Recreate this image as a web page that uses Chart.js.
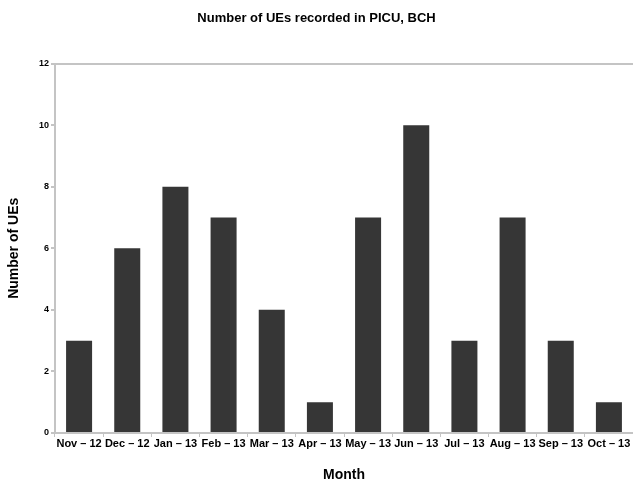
<!DOCTYPE html>
<html>
<head>
<meta charset="utf-8">
<script src="https://cdn.jsdelivr.net/npm/chart.js@4/dist/chart.umd.min.js"></script>
<style>
  html, body { margin: 0; padding: 0; background: #fff; }
  #wrap { width: 633px; height: 479px; }
</style>
</head>
<body>
<div id="wrap"><canvas id="chart"></canvas></div>
<script>
var months = ["Nov \u2013 12", "Dec \u2013 12", "Jan \u2013 13", "Feb \u2013 13", "Mar \u2013 13", "Apr \u2013 13",
              "May \u2013 13", "Jun \u2013 13", "Jul \u2013 13", "Aug \u2013 13", "Sep \u2013 13", "Oct \u2013 13"];
var ueCounts = [3, 6, 8, 7, 4, 1, 7, 10, 3, 7, 3, 1];
var yMax = 12;
var yStep = 2;

document.addEventListener("DOMContentLoaded", function() {
    var ctx = document.getElementById('chart').getContext('2d');
    var axisGray = '#c4c4c4';
    var fam = 'Arial, "Liberation Sans", sans-serif';

    new Chart(ctx, {
        type: 'bar',
        data: {
            labels: months,
            datasets: [{
                label: 'Number of UEs',
                data: ueCounts,
                backgroundColor: '#363636',
                borderWidth: 0,
                barPercentage: 0.54,
                categoryPercentage: 1
            }]
        },
        options: {
            responsive: true,
            maintainAspectRatio: false,
            animation: false,
            layout: { padding: 0 },
            plugins: {
                legend: { display: false },
                tooltip: { enabled: false },
                title: {
                    display: true,
                    text: 'Number of UEs recorded in PICU, BCH',
                    color: '#000',
                    font: { family: fam, size: 13, weight: 'bold' },
                    padding: { top: 11, bottom: 37 }
                }
            },
            scales: {
                x: {
                    offset: true,
                    afterFit: function(scale) { scale.height = 46; },
                    border: { display: true, color: axisGray, width: 2 },
                    grid: {
                        offset: true,
                        drawOnChartArea: false,
                        tickLength: 4,
                        tickColor: axisGray
                    },
                    ticks: {
                        color: '#000',
                        font: { family: fam, size: 11, weight: 'bold' },
                        padding: 0,
                        maxRotation: 0,
                        autoSkip: false
                    },
                    title: {
                        display: true,
                        text: 'Month',
                        color: '#000',
                        font: { family: fam, size: 14, weight: 'bold', lineHeight: 0.6 },
                        padding: { top: 0, bottom: 0 }
                    }
                },
                y: {
                    min: 0,
                    max: yMax,
                    afterFit: function(scale) { scale.width = 55; },
                    border: { display: true, color: axisGray, width: 2 },
                    grid: {
                        color: function(c) { return c.tick && c.tick.value === yMax ? axisGray : 'rgba(0,0,0,0)'; },
                        lineWidth: 2,
                        tickLength: 4,
                        tickColor: axisGray
                    },
                    ticks: {
                        stepSize: yStep,
                        color: '#000',
                        font: { family: fam, size: 9, weight: 'bold' },
                        padding: 2
                    },
                    title: {
                        display: true,
                        text: 'Number of UEs',
                        color: '#000',
                        font: { family: fam, size: 14, weight: 'bold' },
                        padding: { top: 6, bottom: 0 }
                    }
                }
            }
        }
    });
});
</script>
</body>
</html>
